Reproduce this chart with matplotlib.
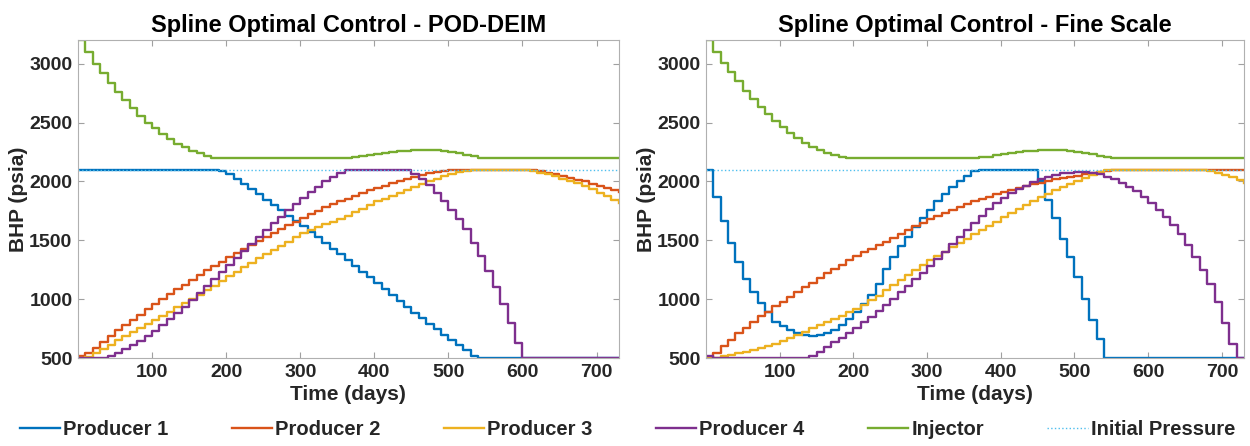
import matplotlib
matplotlib.use('Agg')
import matplotlib.pyplot as plt
import numpy as np

# tiempo de control, pasos de 10 dias
dias = list(range(0, 740, 10))
presion_inicial = 2100

# ---- POD-DEIM ----
pd_prod1 = [2100] * 19 + [2090, 2060, 2020, 1980, 1935, 1890, 1845, 1800, 1755, 1710,
                          1665, 1620, 1570, 1525, 1480, 1430, 1385, 1335, 1285, 1235,
                          1185, 1135, 1085, 1035, 985, 935, 885, 840, 790, 745,
                          700, 655, 610, 565, 520] + [500] * 20
pd_prod2 = [520, 540, 590, 640, 690, 735, 780, 825, 870, 915,
            960, 1000, 1045, 1085, 1125, 1165, 1205, 1245, 1285, 1320,
            1355, 1390, 1425, 1460, 1495, 1530, 1565, 1600, 1630, 1660,
            1690, 1720, 1750, 1780, 1805, 1830, 1855, 1880, 1900, 1925,
            1945, 1965, 1985, 2005, 2025, 2040, 2055, 2070, 2080, 2090,
            2095] + [2100] * 10 + [2095, 2085, 2075, 2060, 2045, 2030, 2015,
                                   2000, 1980, 1965, 1945, 1925, 1910]
pd_prod3 = [500, 510, 545, 580, 615, 650, 685, 720, 755, 790,
            825, 860, 895, 930, 965, 1000, 1040, 1080, 1115, 1155,
            1195, 1235, 1275, 1310, 1350, 1385, 1420, 1455, 1490, 1525,
            1560, 1585, 1610, 1635, 1660, 1685, 1710, 1740, 1770, 1800,
            1830, 1855, 1880, 1905, 1930, 1955, 1980, 2005, 2025, 2045,
            2065, 2080, 2090, 2098] + [2100] * 6 + [2095, 2085, 2075, 2060, 2045,
                                                    2025, 2005, 1985, 1960, 1935,
                                                    1905, 1875, 1845, 1820]
pd_prod4 = [500, 500, 500] + [505, 520, 545, 575, 610, 645, 685, 730, 780, 830,
                              880, 935, 990, 1050, 1110, 1170, 1230, 1290, 1350, 1410,
                              1470, 1530, 1590, 1645, 1700, 1755, 1810, 1860, 1910, 1955,
                              2000, 2040, 2070, 2095] + [2100] * 8 + \
           [2060, 2020, 1970, 1900, 1830, 1760, 1680, 1600, 1480, 1370,
            1240, 1100, 960, 800, 630] + [500] * 14
pd_iny = [3200, 3100, 3000, 2920, 2840, 2760, 2690, 2620, 2560, 2500,
          2450, 2400, 2360, 2320, 2290, 2260, 2240, 2220, 2200] + [2200] * 18 + \
         [2205, 2215, 2225, 2235, 2243, 2250, 2256, 2260, 2263, 2265,
          2265, 2263, 2258, 2250, 2240, 2228, 2215] + [2200] * 20

# ---- Fine Scale ----
fs_prod1 = [2100, 1870, 1665, 1480, 1315, 1175, 1060, 965, 890, 810,
            770, 735, 710, 695, 690, 695, 710, 740, 780, 830,
            890, 960, 1040, 1130, 1260, 1360, 1450, 1525, 1610, 1690,
            1760, 1830, 1890, 1950, 2000, 2050, 2085] + [2100] * 8 + \
           [2000, 1840, 1690, 1510, 1360, 1190, 1000, 820, 660] + [500] * 20
fs_prod2 = [510, 540, 600, 655, 710, 760, 810, 855, 895, 940,
            980, 1020, 1060, 1100, 1140, 1180, 1220, 1260, 1295, 1330,
            1365, 1400, 1430, 1460, 1490, 1520, 1555, 1590, 1620, 1650,
            1680, 1705, 1730, 1755, 1780, 1805, 1830, 1850, 1870, 1890,
            1910, 1930, 1945, 1960, 1975, 1990, 2005, 2020, 2030, 2040,
            2050, 2060, 2070, 2080, 2090] + [2100] * 19
fs_prod3 = [500, 505, 515, 525, 540, 555, 570, 585, 600, 620,
            645, 670, 695, 725, 755, 780, 810, 835, 860, 890,
            920, 955, 990, 1030, 1075, 1120, 1165, 1210, 1250, 1290,
            1330, 1370, 1405, 1440, 1480, 1515, 1550, 1590, 1625, 1660,
            1695, 1730, 1765, 1800, 1835, 1865, 1895, 1925, 1950, 1980,
            2005, 2030, 2055, 2080, 2095] + [2100] * 13 + [2090, 2075, 2055, 2035, 2010, 1990]
fs_prod4 = [520] + [500] * 13 + \
           [520, 555, 595, 635, 675, 715, 760, 805, 850, 900,
            950, 1005, 1060, 1115, 1170, 1225, 1285, 1345, 1405, 1465,
            1525, 1590, 1650, 1710, 1765, 1815, 1860, 1900, 1935, 1965,
            1995, 2020, 2040, 2055, 2068, 2075, 2080, 2078, 2070, 2060,
            2040, 2020, 1990, 1955, 1915, 1870, 1820, 1760, 1700, 1630,
            1550, 1460, 1360, 1250, 1130, 980, 800, 620] + [500, 500]
fs_iny = [3200, 3100, 3010, 2930, 2850, 2770, 2700, 2630, 2570, 2510,
          2460, 2410, 2365, 2325, 2295, 2265, 2245, 2225, 2210, 2200] + [2200] * 17 + \
         [2205, 2212, 2222, 2232, 2240, 2248, 2255, 2260, 2264, 2266,
          2266, 2264, 2260, 2253, 2243, 2232, 2220, 2208] + [2200] * 19

etiquetas = ['Producer 1', 'Producer 2', 'Producer 3', 'Producer 4', 'Injector']
colores = ['#0072BD', '#D95319', '#EDB120', '#7E2F8E', '#77AC30']

plt.rcParams['font.family'] = ['Liberation Sans', 'DejaVu Sans']
plt.rcParams['font.weight'] = 'bold'

fig = plt.figure(figsize=(12.5, 4.46), dpi=100)
ax1 = fig.add_axes([0.0624, 0.197, 0.4326, 0.713])
ax2 = fig.add_axes([0.5648, 0.197, 0.4304, 0.713])

paneles = [
    (ax1, 'Spline Optimal Control - POD-DEIM', [pd_prod1, pd_prod2, pd_prod3, pd_prod4, pd_iny]),
    (ax2, 'Spline Optimal Control - Fine Scale', [fs_prod1, fs_prod2, fs_prod3, fs_prod4, fs_iny]),
]

for ax, titulo, series in paneles:
    for serie, etiqueta, color in zip(series, etiquetas, colores):
        ax.plot(dias, serie, drawstyle='steps-post', color=color, lw=1.7, label=etiqueta)
    ax.axhline(presion_inicial, color='#4DBEEE', lw=1.0, ls=':', label='Initial Pressure')
    ax.set_xlim(0, 730)
    ax.set_ylim(500, 3200)
    ax.set_xticks([100, 200, 300, 400, 500, 600, 700])
    ax.set_yticks([500, 1000, 1500, 2000, 2500, 3000])
    ax.tick_params(direction='in', top=True, right=True, length=4, color='#a0a0a0',
                   labelsize=14, labelcolor='#262626', pad=4)
    for sp in ax.spines.values():
        sp.set_color('#b0b0b0')
        sp.set_linewidth(0.8)
    ax.set_title(titulo, fontsize=17, fontweight='bold', pad=6)
    ax.set_xlabel('Time (days)', fontsize=15, fontweight='bold', color='#262626', labelpad=3)
    ax.set_ylabel('BHP (psia)', fontsize=15, fontweight='bold', color='#262626', labelpad=1)

handles, labels = ax1.get_legend_handles_labels()
leg = fig.legend(handles, labels, loc='lower center', ncol=6, frameon=False,
                 bbox_to_anchor=(0.502, -0.025), fontsize=14.5, handlelength=2.0,
                 handletextpad=0.15, columnspacing=3.15)
for t in leg.get_texts():
    t.set_color('#262626')

plt.savefig('out.png', dpi=100)
